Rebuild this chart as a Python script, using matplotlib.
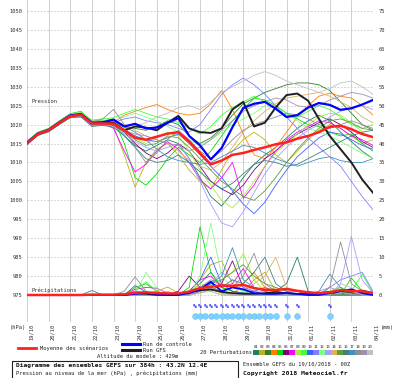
import numpy as np
import matplotlib.pyplot as plt
from matplotlib.lines import Line2D
from matplotlib.patches import Rectangle
from matplotlib.transforms import ScaledTranslation

plt.rc("font", family="DejaVu Sans Mono", size=3.9)

# time axis: 12h steps over 384h
hours = np.arange(0, 385, 12)
day_hours = np.arange(0, 385, 24)
day_labels = ["19/10", "20/10", "21/10", "22/10", "23/10", "24/10", "25/10", "26/10",
              "27/10", "28/10", "29/10", "30/10", "31/10", "01/11", "02/11", "03/11", "04/11"]

# pressure (hPa)
mean_p = [1015, 1017.5, 1018.5, 1020.5, 1022.2, 1022.6, 1020.3, 1020.3, 1020.2, 1018.5, 1016.5,
          1016.0, 1016.8, 1017.6, 1018.0, 1015.5, 1012.5, 1009.5, 1010.5, 1012.0, 1012.5, 1013.3,
          1014.0, 1014.8, 1015.3, 1016.3, 1017.0, 1018.0, 1019.4, 1019.7, 1018.8, 1017.5, 1016.7]
ctrl_p = [1015.2, 1017.6, 1018.6, 1020.6, 1022.4, 1022.8, 1020.5, 1020.6, 1021.3, 1019.5, 1020.2,
          1019.0, 1019.2, 1020.5, 1021.7, 1017.0, 1014.5, 1010.8, 1013.8, 1019.3, 1024.4, 1025.5,
          1026.0, 1024.2, 1022.0, 1022.5, 1024.5, 1025.7, 1025.2, 1023.9, 1024.3, 1025.3, 1026.5]
gfs_p = [1015.1, 1017.5, 1018.5, 1020.5, 1022.3, 1022.7, 1020.4, 1020.5, 1020.5, 1018.5, 1019.5,
         1019.2, 1018.5, 1020.5, 1022.3, 1019.0, 1018.0, 1017.8, 1019.0, 1024.0, 1026.0, 1019.5,
         1020.5, 1024.5, 1027.8, 1028.2, 1026.3, 1021.5, 1017.0, 1013.5, 1010.0, 1005.5, 1002.0]

p01 = [1015.5, 1017.8, 1018.8, 1020.8, 1022.5, 1022.8, 1020.5, 1020.8, 1020.0, 1017.0, 1014.5, 1013.0, 1014.5, 1016.0, 1015.0, 1011.0, 1006.0, 1001.0, 998.5, 1002.0, 1006.0, 1009.5, 1012.0, 1014.0, 1016.5, 1019.0, 1021.0, 1022.5, 1021.0, 1018.0, 1015.5, 1013.0, 1011.0]
p02 = [1015.2, 1017.4, 1018.6, 1020.6, 1022.8, 1023.2, 1020.0, 1020.5, 1019.5, 1012.0, 1003.5, 1010.0, 1013.5, 1015.0, 1012.0, 1008.0, 1005.0, 1003.0, 1008.0, 1013.0, 1016.0, 1018.0, 1016.0, 1012.0, 1010.0, 1013.0, 1016.0, 1018.5, 1020.0, 1019.0, 1017.0, 1015.0, 1016.0]
p03 = [1015.0, 1017.2, 1018.3, 1020.4, 1022.0, 1022.5, 1020.6, 1020.0, 1020.8, 1019.5, 1019.0, 1018.5, 1019.5, 1021.0, 1020.0, 1017.0, 1015.0, 1016.5, 1019.0, 1022.5, 1025.5, 1027.0, 1028.5, 1029.5, 1030.5, 1031.0, 1031.0, 1030.5, 1029.0, 1026.0, 1023.0, 1020.0, 1018.5]
p04 = [1015.3, 1017.6, 1018.9, 1020.9, 1022.4, 1022.0, 1021.0, 1021.2, 1020.6, 1022.5, 1023.5, 1024.5, 1025.3, 1024.0, 1023.0, 1022.5, 1023.0, 1025.5, 1029.0, 1024.0, 1017.5, 1012.0, 1011.0, 1014.0, 1018.0, 1022.0, 1025.0, 1027.5, 1028.3, 1027.5, 1027.0, 1025.0, 1022.5]
p05 = [1015.6, 1018.0, 1019.0, 1021.0, 1022.9, 1023.5, 1020.9, 1021.0, 1021.5, 1015.0, 1006.0, 1004.0, 1007.0, 1011.0, 1014.0, 1012.0, 1010.0, 1013.0, 1017.0, 1021.0, 1024.0, 1027.0, 1026.5, 1025.0, 1023.0, 1021.5, 1020.0, 1019.5, 1018.0, 1017.0, 1017.5, 1015.0, 1013.0]
p06 = [1014.8, 1017.3, 1018.2, 1020.2, 1022.0, 1022.3, 1019.8, 1020.0, 1019.8, 1018.0, 1015.0, 1012.5, 1011.0, 1012.5, 1015.0, 1013.0, 1009.0, 1005.0, 1003.0, 1001.5, 1004.0, 1008.0, 1011.0, 1013.0, 1015.5, 1017.5, 1019.0, 1020.5, 1021.5, 1020.0, 1018.0, 1015.5, 1014.0]
p07 = [1015.0, 1017.5, 1018.5, 1020.3, 1022.2, 1022.4, 1019.9, 1020.4, 1019.0, 1013.0, 1007.5, 1009.5, 1013.0, 1015.5, 1013.5, 1010.0, 1005.5, 1003.0, 1006.0, 1010.0, 1000.5, 1004.0, 1009.0, 1013.0, 1016.0, 1018.0, 1019.5, 1021.0, 1020.5, 1019.0, 1017.0, 1016.0, 1014.5]
p08 = [1015.4, 1017.7, 1018.7, 1020.7, 1022.6, 1022.9, 1020.7, 1020.6, 1020.4, 1019.0, 1016.5, 1015.0, 1016.5, 1018.0, 1017.0, 1013.0, 1008.0, 1004.0, 1000.0, 998.0, 1001.0, 1005.0, 1009.0, 1012.5, 1015.0, 1017.5, 1020.0, 1022.0, 1023.0, 1022.5, 1020.5, 1018.0, 1016.5]
p09 = [1015.2, 1017.6, 1018.6, 1020.5, 1022.3, 1023.0, 1021.2, 1021.5, 1021.8, 1023.0, 1024.0, 1023.0, 1022.0, 1021.5, 1020.5, 1019.0, 1017.5, 1019.5, 1022.5, 1024.5, 1026.0, 1027.5, 1026.0, 1024.0, 1022.5, 1022.0, 1023.5, 1025.0, 1024.0, 1022.0, 1020.0, 1019.0, 1020.0]
p10 = [1014.9, 1017.2, 1018.4, 1020.4, 1022.1, 1022.5, 1020.0, 1020.3, 1020.5, 1018.5, 1017.0, 1016.0, 1015.5, 1016.5, 1017.5, 1015.0, 1012.0, 1009.0, 1006.0, 1002.5, 999.0, 996.5, 999.5, 1004.0, 1008.0, 1011.5, 1014.0, 1016.5, 1018.0, 1017.5, 1016.0, 1014.5, 1013.5]
p11 = [1015.1, 1017.5, 1018.5, 1020.6, 1022.4, 1022.7, 1020.5, 1020.7, 1020.5, 1021.5, 1022.0, 1021.0, 1020.5, 1020.0, 1019.0, 1018.0, 1020.0, 1024.0, 1028.0, 1030.5, 1032.3, 1030.5, 1028.0, 1025.0, 1022.0, 1019.0, 1016.5, 1014.0, 1011.5, 1009.0, 1005.0, 1001.0, 997.5]
p12 = [1015.5, 1017.9, 1018.9, 1020.9, 1022.7, 1023.3, 1021.2, 1021.0, 1021.0, 1022.0, 1023.0, 1022.0, 1021.0, 1019.5, 1018.0, 1016.0, 1014.5, 1016.0, 1018.0, 1020.0, 1021.5, 1023.0, 1025.0, 1024.5, 1023.0, 1021.0, 1019.0, 1018.0, 1017.0, 1015.5, 1014.0, 1012.5, 1011.0]
p13 = [1015.0, 1017.3, 1018.3, 1020.2, 1022.0, 1022.2, 1019.7, 1019.9, 1019.6, 1017.5, 1015.5, 1014.0, 1013.0, 1014.0, 1015.0, 1011.0, 1005.0, 999.0, 994.0, 993.0, 997.0, 1002.0, 1007.0, 1011.0, 1014.0, 1016.5, 1018.5, 1020.0, 1022.0, 1023.5, 1024.5, 1025.0, 1024.0]
p14 = [1015.3, 1017.6, 1018.8, 1020.8, 1022.5, 1022.9, 1020.4, 1020.6, 1020.3, 1020.0, 1018.5, 1017.0, 1016.0, 1015.0, 1013.0, 1010.5, 1009.0, 1008.0, 1010.0, 1014.0, 1018.0, 1021.0, 1023.5, 1025.5, 1027.0, 1027.5, 1028.0, 1028.5, 1027.5, 1026.0, 1024.5, 1022.0, 1020.5]
p15 = [1015.1, 1017.4, 1018.4, 1020.3, 1022.1, 1022.4, 1020.1, 1020.2, 1020.0, 1018.0, 1016.0, 1014.5, 1015.0, 1017.0, 1016.5, 1014.0, 1011.0, 1008.0, 1005.0, 1003.0, 1001.0, 1000.0, 1002.5, 1006.0, 1010.0, 1013.5, 1016.5, 1019.0, 1021.0, 1021.5, 1020.5, 1019.0, 1018.5]
p16 = [1014.7, 1017.1, 1018.1, 1020.0, 1021.8, 1022.0, 1019.5, 1019.8, 1019.3, 1017.0, 1014.0, 1011.0, 1010.0, 1010.5, 1012.0, 1010.0, 1007.5, 1005.0, 1003.0, 1004.5, 1007.0, 1009.5, 1010.5, 1010.0, 1009.0, 1009.5, 1011.0, 1012.5, 1014.0, 1015.5, 1017.0, 1018.0, 1018.5]
p17 = [1015.2, 1017.5, 1018.6, 1020.5, 1022.3, 1022.6, 1020.2, 1020.5, 1020.1, 1019.5, 1018.0, 1016.0, 1013.5, 1011.5, 1010.5, 1010.0, 1009.5, 1010.0, 1011.5, 1013.0, 1014.5, 1014.0, 1012.5, 1011.0, 1010.0, 1009.0, 1010.0, 1011.0, 1011.5, 1010.5, 1010.0, 1010.0, 1011.0]
p18 = [1015.3, 1017.7, 1018.8, 1020.7, 1022.5, 1022.8, 1020.6, 1021.5, 1024.0, 1020.0, 1014.0, 1010.0, 1012.5, 1016.0, 1018.5, 1016.0, 1013.0, 1011.0, 1013.0, 1016.0, 1018.5, 1020.0, 1021.0, 1022.0, 1023.0, 1022.5, 1021.5, 1020.0, 1019.0, 1020.0, 1021.0, 1020.0, 1019.0]
p19 = [1015.0, 1017.4, 1018.5, 1020.5, 1022.2, 1022.5, 1020.3, 1020.0, 1020.2, 1018.5, 1017.5, 1017.0, 1016.0, 1015.0, 1014.5, 1013.0, 1014.0, 1016.0, 1018.5, 1021.0, 1023.5, 1025.0, 1026.0, 1027.0, 1026.5, 1025.0, 1024.5, 1025.0, 1026.5, 1027.5, 1028.5, 1028.0, 1027.0]
p20 = [1015.2, 1017.6, 1018.7, 1020.6, 1022.4, 1022.8, 1020.6, 1020.8, 1021.0, 1020.0, 1019.5, 1020.5, 1022.0, 1023.0, 1024.5, 1025.0, 1024.0, 1026.0, 1028.5, 1030.0, 1031.5, 1033.0, 1034.0, 1033.0, 1031.5, 1030.5, 1029.5, 1028.5, 1029.5, 1031.0, 1031.5, 1030.0, 1028.0]

# precipitation (mm)
mean_r = [0, 0, 0, 0, 0, 0, 0.1, 0.1, 0.1, 0.2, 0.6, 0.7, 0.5, 0.4, 0.4, 0.9, 1.8, 2.2, 2.5, 2.4, 2.7, 1.8, 1.4, 1.3, 1.6, 1.1, 0.7, 0.5, 0.7, 1.3, 1.0, 1.0, 0.5]
ctrl_r = [0, 0, 0, 0, 0, 0, 0, 0, 0, 0, 0.3, 0.5, 0.3, 0, 0, 0.5, 1.5, 3.5, 1.0, 2.0, 1.5, 0.5, 0.3, 0.3, 0.5, 0.3, 0, 0, 0.5, 1.0, 1.5, 0.5, 0]
gfs_r = [0, 0, 0, 0, 0, 0, 0, 0, 0, 0, 0.5, 0.3, 0, 0, 0.3, 0.8, 1.2, 1.5, 0.8, 0.5, 0.3, 0.3, 0.5, 0.8, 0.5, 0.3, 0.3, 0.5, 0.8, 1.0, 0.8, 1.2, 0.5]

r01 = [0, 0, 0, 0, 0, 0, 0, 0, 0, 0, 0, 0, 0, 0, 0, 0.5, 3, 6, 2, 1, 0.5, 1, 2, 1, 3, 10, 1, 0, 0.5, 0.5, 0, 0.5, 0]
r02 = [0, 0, 0, 0, 0, 0, 0, 0, 0, 0.3, 1, 0.5, 1, 2.1, 0.5, 1, 4, 8, 9, 3, 1, 4, 6, 1, 0.5, 0, 0.3, 0.3, 1, 2, 0.5, 0, 0]
r03 = [0, 0, 0, 0, 0, 0, 0, 0, 0, 0, 0, 0, 0, 0, 0, 0.3, 1, 2, 1, 0.5, 0.3, 0, 0, 0, 0, 0, 0, 0, 0, 1, 0.5, 0, 0]
r04 = [0, 0, 0, 0, 0, 0, 0, 0, 0, 0, 0, 0, 0, 0, 0, 0, 0.5, 1.5, 0.5, 0, 3, 6, 2, 0.5, 0, 0, 0, 0, 0, 0, 0, 0, 0]
r05 = [0, 0, 0, 0, 0, 0, 0, 0, 0, 0, 2, 3, 1, 0, 0, 2, 18, 6, 2, 1, 0.5, 0, 0, 0, 0, 0, 0, 0, 0, 0, 4.5, 1, 0]
r06 = [0, 0, 0, 0, 0, 0, 0, 0, 0, 0, 0, 0, 0, 0, 1, 5, 2, 1, 3, 9, 2, 1, 0, 0, 0, 0, 0, 0, 0, 0, 0, 0, 0]
r07 = [0, 0, 0, 0, 0, 0, 0, 0, 0, 0, 1.5, 2, 1.8, 0.5, 0, 1, 4, 5, 2, 3, 7, 2, 1, 0, 0, 0, 0, 0, 0, 0, 0, 0, 0]
r08 = [0, 0, 0, 0, 0, 0, 0, 0, 0, 0, 0, 1, 0, 0, 0, 0.5, 3, 2, 4, 6, 11, 4, 1, 2, 1, 0, 0, 0, 0, 0, 0, 0, 0]
r09 = [0, 0, 0, 0, 0, 0, 0, 0, 0, 0, 1, 3.5, 1, 0, 0, 0, 2, 1, 0, 0, 0, 0, 0, 0, 0, 0, 0, 0, 1, 2, 1, 5.5, 0.5]
r10 = [0, 0, 0, 0, 0, 0, 0, 0, 0, 0, 0, 0, 0, 0, 0, 1, 4, 10, 3, 1, 0.5, 0, 0, 0, 0, 0, 0, 0, 0, 0, 0, 0, 0]
r11 = [0, 0, 0, 0, 0, 0, 0, 0, 0, 0, 0, 0, 0, 0, 0, 0, 1, 2, 1, 0, 0, 0, 0, 0, 0, 0, 0, 0, 2, 4, 5, 6, 1]
r12 = [0, 0, 0, 0, 0, 0, 0, 0, 0, 0, 0, 6, 2, 0, 0, 0, 5, 19, 5, 2, 1, 0.5, 0, 0, 0, 0, 0, 0, 0, 0, 0, 0, 0]
r13 = [0, 0, 0, 0, 0, 0, 0, 0, 0, 0, 0, 0, 0, 0, 0, 0, 2, 3, 6, 4, 2, 1, 1, 0, 0, 0, 0, 0, 0, 3, 15.5, 4, 0.5]
r14 = [0, 0, 0, 0, 0, 0, 0, 0, 0, 0, 0, 0, 0, 1, 0, 0, 1, 2, 1, 0, 0, 3, 5, 10, 2, 1, 0, 0, 0, 0, 0, 0, 0]
r15 = [0, 0, 0, 0, 0, 0, 0, 0, 0, 0, 0, 0, 0, 0, 0, 0, 1, 3, 4, 6, 8, 5, 3, 2, 1, 1, 0, 0, 0, 0, 0, 0, 0]
r16 = [0, 0, 0, 0, 0, 0, 1.2, 0, 0, 0, 2.5, 0.8, 0, 0, 0, 1, 2, 3, 2, 4, 3, 6, 10, 3, 1, 0, 0, 0, 0, 0, 0, 0, 0]
r17 = [0, 0, 0, 0, 0, 0, 0, 0, 0, 0, 0, 0, 0, 0, 0, 0, 1, 3, 5, 12.5, 4, 2, 1, 0, 0, 0, 0, 1, 5.5, 2, 0, 0, 0]
r18 = [0, 0, 0, 0, 0, 0, 0, 0, 0, 1, 4.8, 1, 0, 0, 0, 0, 2, 4, 3, 2, 5, 11, 3, 1, 0, 0, 0, 0, 2, 14, 3, 1, 0]
r19 = [0, 0, 0, 0, 0, 0, 0, 0, 0, 0, 0, 0, 0, 0, 0, 0, 1, 2, 1, 0, 0, 0, 0, 0, 0, 0, 0, 1, 2, 1, 0, 0, 0]
r20 = [0, 0, 0, 0, 0, 0, 0, 0, 0, 0, 0, 0, 0, 0, 0, 0, 0.5, 1, 0, 0, 0, 0, 0, 0, 0, 0, 0, 0, 0, 3, 2, 0, 0]

pert_p = [p01, p02, p03, p04, p05, p06, p07, p08, p09, p10, p11, p12, p13, p14, p15, p16, p17, p18, p19, p20]
pert_r = [r01, r02, r03, r04, r05, r06, r07, r08, r09, r10, r11, r12, r13, r14, r15, r16, r17, r18, r19, r20]
pert_names = ["%02d" % i for i in range(1, 21)]
pert_colors = ['#208060', '#c0b020', '#308030', '#ff8000', '#00e000', '#800080', '#ff00ff', '#a0f040',
               '#40ff40', '#4060ff', '#8080ff', '#80ff80', '#a0a0ff', '#e0b060', '#60a030', '#408080',
               '#4090c0', '#909090', '#a090b0', '#c0c0c0']

# hours with precipitation-type icons
icon_hours = [186, 192, 198, 204, 210, 216, 222, 228, 234, 240, 246, 252, 258, 264, 270, 276, 288, 300, 336]

fig = plt.figure(figsize=(4, 3.78), dpi=100)
ax = fig.add_axes([27/400, 1 - 322/378, 346/400, 322/378])
ax.set_xlim(0, 384)
ax.set_ylim(967.87, 1052.9)
ax2 = ax.twinx()
ax2.set_ylim(-7.13, 77.9)
for a in (ax, ax2):
    for s in a.spines.values():
        s.set_visible(False)

ax.set_yticks(range(975, 1051, 5))
ax.set_xticks(day_hours)
ax.set_xticklabels(day_labels, rotation=90, va='top', color='#303030')
ax.tick_params(axis='both', length=0, labelcolor='#303030')
ax.tick_params(axis='y', pad=3)
ax.tick_params(axis='x', pad=1)
for lab in ax.get_xticklabels():
    lab.set_transform(lab.get_transform() + ScaledTranslation(4/100, 0, fig.dpi_scale_trans))
ax.yaxis.grid(True, color='#c8c8c8', ls=(0, (2, 2)), lw=0.6)
ax.xaxis.grid(True, color='#c8c8c8', ls='-', lw=0.6)
ax2.set_yticks(range(0, 76, 5))
ax2.tick_params(axis='y', length=0, pad=4, labelcolor='#303030')

# pressure
for vals, c in zip(pert_p, pert_colors):
    ax.plot(hours, vals, color=c, lw=0.6)
ax.plot(hours, gfs_p, color='#202020', lw=1.4)
ax.plot(hours, ctrl_p, color='#0000ff', lw=1.6)
ax.plot(hours, mean_p, color='#ff2020', lw=1.8)

# precipitation
for vals, c in zip(pert_r, pert_colors):
    ax2.plot(hours, vals, color=c, lw=0.6)
ax2.plot(hours, gfs_r, color='#202020', lw=1.2)
ax2.plot(hours, ctrl_r, color='#0000ff', lw=1.3)
ax2.plot(hours, mean_r, color='#ff2020', lw=1.8)

ax.text(5, 1025.4, "Pression", ha='left', va='bottom', color='#303030')
ax.text(5, 975.4, "Précipitations", ha='left', va='bottom', color='#303030')

# icons row
for h in icon_hours:
    ax.text(h, 972.0, "%", ha='center', va='center', fontsize=4.6, color='#2020ff', weight='bold')
ax.scatter(icon_hours, [969.5] * len(icon_hours), s=18, color='#80d0ff', edgecolors='#60b8f0',
           linewidths=0.3, zorder=5, clip_on=False)

# annotations in pixel coordinates
ann = fig.add_axes([0, 0, 1, 1])
ann.set_xlim(0, 400)
ann.set_ylim(378, 0)
ann.axis('off')
ann.patch.set_visible(False)

ann.text(26, 327, "(hPa)", ha='right', va='center', color='#303030')
ann.text(381, 328, "(mm)", ha='left', va='center', color='#303030')

ann.add_line(Line2D([18, 36], [348, 348], color='#ff2020', lw=2.0))
ann.text(40, 348, "Moyenne des scénarios", va='center', color='#202020')
ann.add_line(Line2D([122, 140], [344, 344], color='#0000ff', lw=2.2))
ann.text(143, 344, "Run de controle", va='center', color='#202020')
ann.add_line(Line2D([122, 140], [350, 350], color='#202020', lw=2.2))
ann.text(143, 350, "Run GFS", va='center', color='#202020')
ann.text(97, 356, "Altitude du modele : 429m", va='center', color='#202020')

ann.text(200, 352.5, "20 Perturbations", va='center', color='#202020')
for i, (name, c) in enumerate(zip(pert_names, pert_colors)):
    x0 = 253 + i * 6
    ann.add_patch(Rectangle((x0, 350), 5.6, 5, color=c, lw=0))
    ann.text(x0 + 2.8, 346.5, name, ha='center', va='center', fontsize=2.8, color='#202020')

ann.add_patch(Rectangle((11.5, 361), 226, 20, fill=False, edgecolor='#202020', lw=0.8))
ann.text(16, 366, "Diagramme des ensembles GEFS sur 384h : 43.2N 12.4E", va='center',
         fontsize=4.5, weight='bold', color='#101010')
ann.text(16, 373.5, "Pression au niveau de la mer (hPa) , précipitations (mm)", va='center',
         color='#202020')
ann.text(243, 364, "Ensemble GEFS du 19/10/2018 - 00Z", va='center', color='#202020')
ann.text(243, 373.5, "Copyright 2018 Meteociel.fr", va='center', fontsize=4.6, weight='bold',
         color='#101010')

fig.savefig("out.png", dpi=100)
